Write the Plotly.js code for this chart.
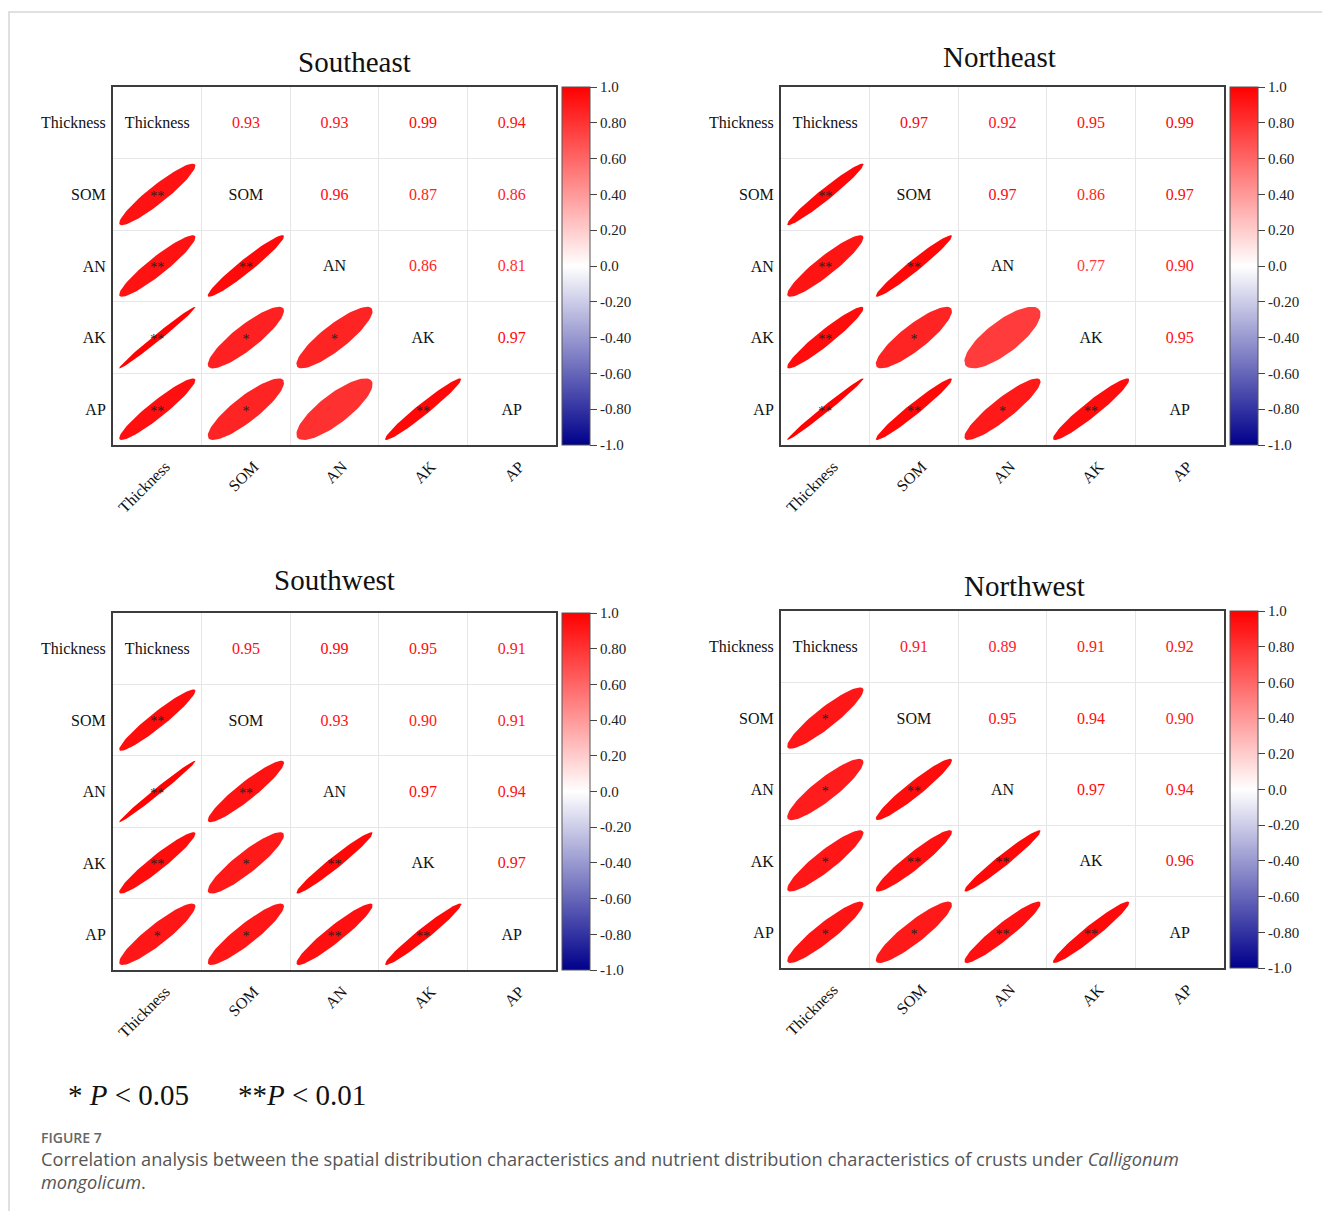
<!DOCTYPE html>
<html><head><meta charset="utf-8">
<script src="https://cdn.plot.ly/plotly-3.0.1.min.js"></script>
<style>html,body{margin:0;padding:0;background:#fff}#chart{width:1322px;height:1211px}</style>
</head><body><div id="chart"></div>
<script>
// ---------------- DATA ----------------
const variables = ["Thickness", "SOM", "AN", "AK", "AP"];
const panelNames = ["Southeast", "Northeast", "Southwest", "Northwest"];

// upper-triangle correlation coefficients, row by row
// row Thickness: vs SOM, AN, AK, AP ; row SOM: vs AN, AK, AP ; row AN: vs AK, AP ; row AK: vs AP
const corrSoutheast = [[0.93, 0.93, 0.99, 0.94], [0.96, 0.87, 0.86], [0.86, 0.81], [0.97]];
const corrNortheast = [[0.97, 0.92, 0.95, 0.99], [0.97, 0.86, 0.97], [0.77, 0.90], [0.95]];
const corrSouthwest = [[0.95, 0.99, 0.95, 0.91], [0.93, 0.90, 0.91], [0.97, 0.94], [0.97]];
const corrNorthwest = [[0.91, 0.89, 0.91, 0.92], [0.95, 0.94, 0.90], [0.97, 0.94], [0.96]];

// lower-triangle significance marks, rows SOM, AN, AK, AP ; columns Thickness, SOM, AN, AK
const sigSoutheast = [["**"], ["**", "**"], ["**", "*", "*"], ["**", "*", "", "**"]];
const sigNortheast = [["**"], ["**", "**"], ["**", "*", ""], ["**", "**", "*", "**"]];
const sigSouthwest = [["**"], ["**", "**"], ["**", "*", "**"], ["*", "*", "**", "**"]];
const sigNorthwest = [["*"], ["*", "**"], ["*", "**", "**"], ["*", "*", "**", "**"]];

const colorbarTickVals = [1, 0.8, 0.6, 0.4, 0.2, 0, -0.2, -0.4, -0.6, -0.8, -1];
const colorbarTickText = ["1.0", "0.80", "0.60", "0.40", "0.20", "0.0", "-0.20", "-0.40", "-0.60", "-0.80", "-1.0"];

const legendText = ["* <i>P</i> &#60; 0.05", "**<i>P</i> &#60; 0.01"];
const figureLabel = "FIGURE 7";
const captionLines = [
  "Correlation analysis between the spatial distribution characteristics and nutrient distribution characteristics of crusts under <i>Calligonum</i>",
  "<i>mongolicum</i>."
];

// ---------------- LAYOUT GEOMETRY (px) ----------------
const W = 1322, H = 1211;
const panelBoxes = [
  {x0: 113, x1: 556, y0: 87, y1: 445, tx: 354, ty: 62},
  {x0: 781, x1: 1224, y0: 87, y1: 445, tx: 1000, ty: 57},
  {x0: 113, x1: 556, y0: 613, y1: 970, tx: 334, ty: 580},
  {x0: 781, x1: 1224, y0: 611, y1: 968, tx: 1024, ty: 586}
];
const px = v => v / W;
const py = v => 1 - v / H;

const corrSets = [corrSoutheast, corrNortheast, corrSouthwest, corrNorthwest];
const sigSets = [sigSoutheast, sigNortheast, sigSouthwest, sigNorthwest];

const colorscale = [[0, "#00008B"], [0.5, "#FFFFFF"], [1, "#FF0000"]];
function colorFor(r) {
  let c;
  if (r >= 0) c = [255, 255 * (1 - r), 255 * (1 - r)];
  else { const t = -r; c = [255 * (1 - t), 255 * (1 - t), 255 * (1 - t) + 139 * t]; }
  return "rgb(" + c.map(v => Math.round(v)).join(",") + ")";
}
function fullMatrix(upper) {
  const n = variables.length;
  const m = [];
  for (let i = 0; i < n; i++) { m.push(new Array(n).fill(1)); }
  for (let i = 0; i < n - 1; i++) for (let k = 0; k < upper[i].length; k++) {
    const j = i + 1 + k; m[i][j] = upper[i][k]; m[j][i] = upper[i][k];
  }
  return m;
}

const serif = "Liberation Serif, Times New Roman, serif";
const sans = "Open Sans, Noto Sans, sans-serif";
const traces = [];
const layout = {
  width: W, height: H, margin: {l: 0, r: 0, t: 0, b: 0},
  paper_bgcolor: "#fff", plot_bgcolor: "#fff", showlegend: false,
  annotations: [], shapes: []
};

panelBoxes.forEach((b, k) => {
  const sfx = k === 0 ? "" : String(k + 1);
  const xa = "x" + sfx, ya = "y" + sfx;
  const m = fullMatrix(corrSets[k]);
  const sig = sigSets[k];
  const n = variables.length;
  const idx = variables.map((_, i) => i + 1);
  const half = [1.5, 2.5, 3.5, 4.5];
  const common = {
    tickvals: idx, ticktext: variables, showgrid: false, zeroline: false,
    showline: true, mirror: true, linecolor: "#3c3c3c", linewidth: 2,
    ticks: "", tickfont: {family: serif, size: 16, color: "#111"},
    minor: {tickmode: "array", tickvals: half, showgrid: true, gridcolor: "#e6e6e6", gridwidth: 1, ticks: ""},
    fixedrange: true
  };
  layout["xaxis" + sfx] = Object.assign({}, common, {
    domain: [px(b.x0), px(b.x1)], range: [0.5, 5.5], anchor: ya, tickangle: -45,
    ticklabelshift: 8, ticklabelstandoff: 4
  });
  layout["yaxis" + sfx] = Object.assign({}, common, {
    domain: [py(b.y1), py(b.y0)], range: [5.5, 0.5], anchor: xa, ticklabelstandoff: 2
  });

  // ellipses (lower triangle)
  const s = 0.43, N = 80;
  for (let i = 1; i < n; i++) for (let j = 0; j < i; j++) {
    const r = m[i][j];
    const d = Math.acos(r);
    const xs = [], ys = [];
    for (let q = 0; q <= N; q++) {
      const t = 2 * Math.PI * q / N;
      xs.push((j + 1) + s * Math.cos(t + d / 2));
      ys.push((i + 1) - s * Math.cos(t - d / 2));
    }
    traces.push({type: "scatter", mode: "lines", x: xs, y: ys, xaxis: xa, yaxis: ya,
      fill: "toself", fillcolor: colorFor(r), line: {width: 0, color: colorFor(r)}, hoverinfo: "skip"});
  }
  // significance stars
  const sx = [], sy = [], st = [];
  for (let i = 1; i < n; i++) for (let j = 0; j < i; j++) {
    const mark = sig[i - 1][j];
    if (mark) { sx.push(j + 1); sy.push(i + 1 + 0.04); st.push(mark); }
  }
  traces.push({type: "scatter", mode: "text", x: sx, y: sy, text: st, xaxis: xa, yaxis: ya,
    textposition: "middle center", textfont: {family: serif, size: 14, color: "#222"}, hoverinfo: "skip"});
  // diagonal names
  traces.push({type: "scatter", mode: "text", x: idx, y: idx.map(v => v + 0.02), text: variables, xaxis: xa, yaxis: ya,
    textposition: "middle center", textfont: {family: serif, size: 16, color: "#111"}, hoverinfo: "skip"});
  // upper values
  const ux = [], uy = [], ut = [], uc = [];
  for (let i = 0; i < n; i++) for (let j = i + 1; j < n; j++) {
    ux.push(j + 1); uy.push(i + 1 + 0.02); ut.push(m[i][j].toFixed(2)); uc.push(colorFor(m[i][j]));
  }
  traces.push({type: "scatter", mode: "text", x: ux, y: uy, text: ut, xaxis: xa, yaxis: ya,
    textposition: "middle center", textfont: {family: serif, size: 16, color: uc}, hoverinfo: "skip"});
  // colorbar carrier
  traces.push({type: "scatter", mode: "markers", x: [1, 1], y: [1, 1], xaxis: xa, yaxis: ya, hoverinfo: "skip",
    marker: {size: 0.001, opacity: 0, color: [-1, 1], cmin: -1, cmax: 1, colorscale: colorscale, showscale: true,
      colorbar: {x: px(b.x1 + 6), xanchor: "left", y: py((b.y0 + b.y1) / 2), yanchor: "middle",
        len: (b.y1 - b.y0) / H, lenmode: "fraction", thickness: 28, thicknessmode: "pixels",
        xpad: 0, ypad: 0, outlinecolor: "#555", outlinewidth: 1,
        tickmode: "array", tickvals: colorbarTickVals, ticktext: colorbarTickText,
        ticks: "outside", ticklen: 7, tickcolor: "#444", tickwidth: 1,
        tickfont: {family: serif, size: 15, color: "#222"}}}});
  // panel title
  layout.annotations.push({xref: "paper", yref: "paper", x: px(b.tx), y: py(b.ty), xanchor: "center", yanchor: "middle",
    text: panelNames[k], showarrow: false, font: {family: serif, size: 29, color: "#111"}});
});

// footer
layout.annotations.push({xref: "paper", yref: "paper", x: px(66), y: py(1095), xanchor: "left", yanchor: "middle",
  text: legendText[0], showarrow: false, font: {family: serif, size: 29, color: "#111"}});
layout.annotations.push({xref: "paper", yref: "paper", x: px(236), y: py(1095), xanchor: "left", yanchor: "middle",
  text: legendText[1], showarrow: false, font: {family: serif, size: 29, color: "#111"}});
layout.annotations.push({xref: "paper", yref: "paper", x: px(40), y: py(1137), xanchor: "left", yanchor: "middle",
  text: figureLabel, showarrow: false, borderpad: 0, font: {family: sans, size: 14, color: "#666", weight: 600}});
captionLines.forEach((t, i) => {
  layout.annotations.push({xref: "paper", yref: "paper", x: px(40), y: py(1159 + 23 * i), xanchor: "left", yanchor: "middle",
    text: t, showarrow: false, borderpad: 0, font: {family: sans, size: 18.2, color: "#555"}});
});
// page frame
layout.shapes.push({type: "rect", xref: "paper", yref: "paper", x0: px(9), x1: px(1400), y0: py(12), y1: py(1300),
  line: {color: "#d6d6d6", width: 1.5}, fillcolor: "rgba(0,0,0,0)", layer: "below"});

Plotly.newPlot("chart", traces, layout, {displayModeBar: false, staticPlot: true});
</script>
</body></html>
